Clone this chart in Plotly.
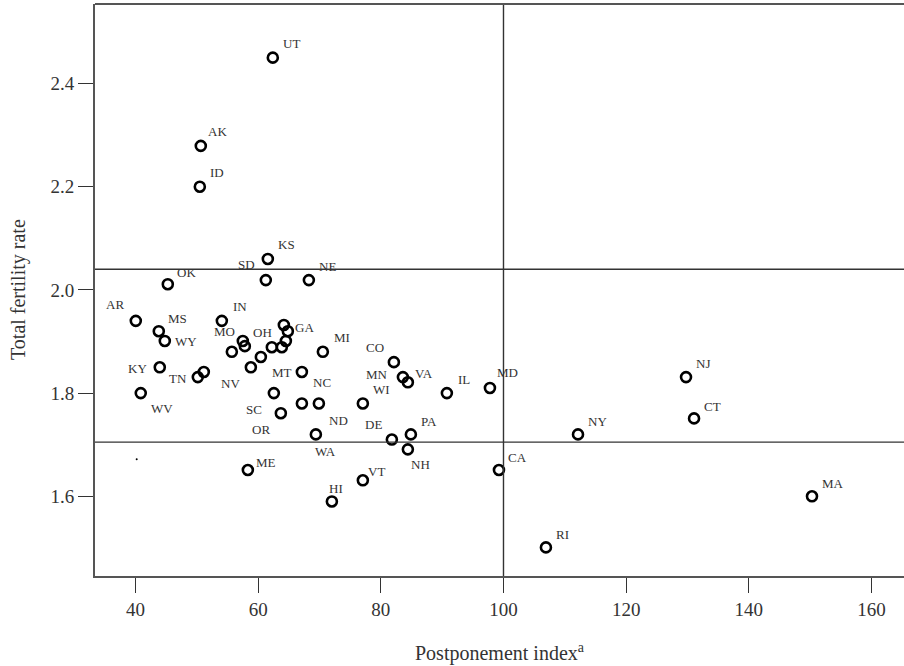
import plotly.graph_objects as go

# Data
states = ["UT", "AK", "ID", "KS", "SD", "NE", "OK", "AR", "MS", "WY",
          "IN", "MO", "s13", "s14", "s15", "GA", "s17", "s18", "OH", "s20",
          "NV", "KY", "TN", "s24", "WV", "MT", "SC", "OR", "NC", "ND",
          "MI", "CO", "MN", "VA", "WI", "WA", "DE", "PA", "NH", "IL",
          "MD", "CA", "VT", "HI", "ME", "RI", "NJ", "CT", "NY", "MA"]
postponement = [62.39, 50.65, 50.49, 61.58, 61.25, 68.27, 45.27, 40.05, 43.80, 44.78,
                54.08, 57.50, 57.83, 55.71, 64.19, 64.84, 64.52, 63.86, 62.23, 60.44,
                58.81, 43.96, 50.16, 51.14, 40.86, 67.13, 62.56, 63.70, 67.13, 69.90,
                70.55, 82.13, 83.60, 84.41, 77.07, 69.41, 81.80, 84.90, 84.41, 90.77,
                97.79, 99.26, 77.07, 72.02, 58.32, 106.92, 129.76, 131.07, 112.15, 150.30]
tfr = [2.450, 2.279, 2.200, 2.060, 2.019, 2.019, 2.011, 1.940, 1.920, 1.901,
       1.940, 1.901, 1.891, 1.880, 1.932, 1.920, 1.901, 1.889, 1.889, 1.870,
       1.850, 1.850, 1.831, 1.841, 1.800, 1.841, 1.800, 1.761, 1.780, 1.780,
       1.880, 1.860, 1.831, 1.821, 1.780, 1.720, 1.710, 1.720, 1.691, 1.800,
       1.810, 1.651, 1.631, 1.590, 1.651, 1.501, 1.831, 1.751, 1.720, 1.600]
stray_x = [40.2]
stray_y = [1.672]
ref_tfr = [2.04, 1.705]
ref_postponement = [100]
x_ticks = [40, 60, 80, 100, 120, 140, 160]
y_ticks = [1.6, 1.8, 2.0, 2.2, 2.4]
x_title = "Postponement index<sup>a</sup>"
y_title = "Total fertility rate"

# label placement offsets (pixels, right / up) for labelled states
label_offset = {
    "UT": (19, 14), "AK": (17, 14), "ID": (17, 14), "KS": (19, 14), "SD": (-19, 16),
    "NE": (19, 14), "OK": (19, 12), "AR": (-21, 16), "MS": (19, 13), "WY": (21, -1),
    "IN": (18, 14), "MO": (-18, 9), "OH": (-9, 15), "GA": (17, 4), "NV": (-20, -16),
    "KY": (-22, -1), "TN": (-20, -1), "WV": (21, -15), "MT": (-20, -1), "SC": (-20, -16),
    "OR": (-20, -16), "NC": (20, 21), "ND": (20, -17), "MI": (19, 14), "CO": (-19, 15),
    "MN": (-26, 3), "VA": (16, 9), "WI": (19, 14), "WA": (10, -17), "DE": (-18, 15),
    "PA": (18, 13), "NH": (13, -15), "IL": (17, 14), "MD": (18, 15), "CA": (19, 13),
    "VT": (14, 9), "HI": (4, 13), "ME": (18, 8), "RI": (17, 13), "NJ": (17, 14),
    "CT": (18, 12), "NY": (19, 13), "MA": (21, 13),
}

FONT = "Liberation Serif"
INK = "#333333"
FRAME = "#555555"

fig = go.Figure()
fig.add_trace(go.Scatter(
    x=postponement, y=tfr, mode="markers",
    marker=dict(symbol="circle-open", size=10, color="black", line=dict(width=2.6, color="black")),
    hoverinfo="skip", showlegend=False,
))
fig.add_trace(go.Scatter(
    x=stray_x, y=stray_y, mode="markers",
    marker=dict(symbol="circle", size=2, color="black"),
    hoverinfo="skip", showlegend=False,
))

for s, xv, yv in zip(states, postponement, tfr):
    if s in label_offset:
        dx, dy = label_offset[s]
        fig.add_annotation(x=xv, y=yv, text=s, showarrow=False, xshift=dx, yshift=dy,
                           font=dict(family=FONT, size=13, color=INK))

for yv in ref_tfr:
    fig.add_shape(type="line", xref="paper", x0=0, x1=1, yref="y", y0=yv, y1=yv,
                  line=dict(color=INK, width=1.4))
for xv in ref_postponement:
    fig.add_shape(type="line", yref="paper", y0=0, y1=1, xref="x", x0=xv, x1=xv,
                  line=dict(color=INK, width=1.4))
# top frame line
fig.add_shape(type="line", xref="paper", yref="paper", x0=0, x1=1, y0=1, y1=1,
              line=dict(color=FRAME, width=2))

# axis titles
fig.add_annotation(xref="paper", yref="paper", x=0.5, y=0, yshift=-76, text=x_title,
                   xanchor="center", yanchor="middle",
                   showarrow=False, font=dict(family=FONT, size=20, color=INK))
fig.add_annotation(xref="paper", yref="paper", x=0, y=0.5, xshift=-77, text=y_title,
                   xanchor="center", yanchor="middle",
                   textangle=-90, showarrow=False, font=dict(family=FONT, size=20, color=INK))

fig.update_layout(
    width=904, height=666,
    margin=dict(l=95, r=0, t=4, b=90, autoexpand=False),
    paper_bgcolor="white", plot_bgcolor="white",
    font=dict(family=FONT, color=INK),
    xaxis=dict(range=[33.4, 165.3], tickvals=x_ticks, automargin=False,
               showgrid=False, zeroline=False, showline=True, linecolor=FRAME, linewidth=2,
               ticks="outside", ticklen=15, tickwidth=1.2, tickcolor=INK,
               tickfont=dict(family=FONT, size=19, color=INK)),
    yaxis=dict(range=[1.4456, 2.554], tickvals=y_ticks, tickformat=".1f", automargin=False,
               showgrid=False, zeroline=False, showline=True, linecolor=FRAME, linewidth=2,
               ticks="outside", ticklen=15, tickwidth=1.2, tickcolor=INK,
               tickfont=dict(family=FONT, size=19, color=INK)),
)

fig.write_html("out.html", config={"displayModeBar": False},
               post_script="document.body.style.margin='0';")
